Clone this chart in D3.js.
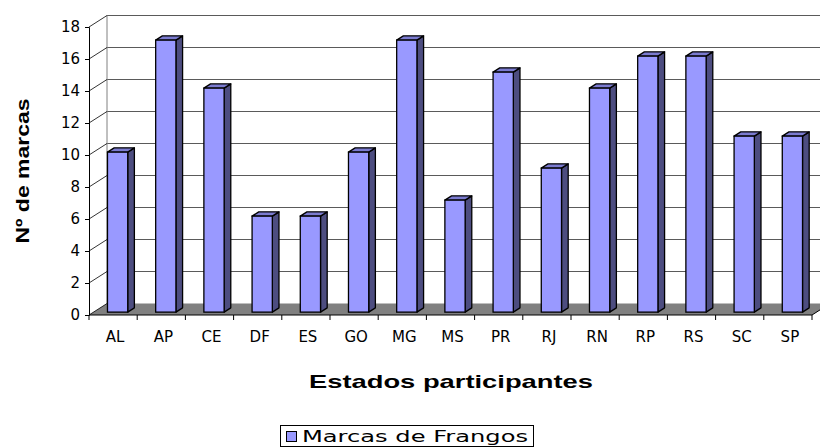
<!DOCTYPE html>
<html>
<head>
<meta charset="utf-8">
<script src="https://cdn.jsdelivr.net/npm/d3@7"></script>
<style>
  body { margin: 0; background: #fff; }
  svg { display: block; font-family: "DejaVu Sans", Verdana, sans-serif; }
</style>
</head>
<body>
<div id="chart"></div>
<script>
// data
const estados = ["AL", "AP", "CE", "DF", "ES", "GO", "MG", "MS", "PR", "RJ", "RN", "RP", "RS", "SC", "SP"];
const marcas = [10, 17, 14, 6, 6, 10, 17, 7, 15, 9, 14, 16, 16, 11, 11];
const yTicks = [0, 2, 4, 6, 8, 10, 12, 14, 16, 18];
const seriesName = "Marcas de Frangos";

const width = 820, height = 448;
const plotLeft = 89, plotRight = 812, plotBottom = 315, plotTop = 27;
// depth of the 3d box
const depthX = 18, depthY = -11.5;
// bar front/back inside the depth
const barFront = 0.25, barBack = 0.62;

const svg = d3.select("#chart").append("svg")
  .attr("width", width)
  .attr("height", height);

const x = d3.scaleBand()
  .domain(estados)
  .range([plotLeft, plotRight])
  .paddingInner(0.58)
  .paddingOuter(0.29);

const y = d3.scaleLinear()
  .domain([0, 18])
  .range([plotBottom, plotTop]);

// floor
svg.append("polygon")
  .attr("points", [[plotLeft, y(0)], [plotRight, y(0)], [plotRight + depthX, y(0) + depthY], [plotLeft + depthX, y(0) + depthY]].join(" "))
  .attr("fill", "#808080");

// back wall gridlines
svg.append("g").selectAll("line")
  .data(yTicks.filter(d => d > 0))
  .enter().append("line")
  .attr("x1", plotLeft + depthX)
  .attr("x2", plotRight + depthX)
  .attr("y1", d => y(d) + depthY)
  .attr("y2", d => y(d) + depthY)
  .attr("stroke", "#5a5a5a")
  .attr("stroke-width", 1);

// left wall
svg.append("line")
  .attr("x1", plotLeft + depthX).attr("x2", plotLeft + depthX)
  .attr("y1", y(18) + depthY).attr("y2", y(0) + depthY)
  .attr("stroke", "#808080");

svg.append("g").selectAll("line")
  .data(yTicks)
  .enter().append("line")
  .attr("x1", plotLeft)
  .attr("x2", plotLeft + depthX)
  .attr("y1", d => y(d))
  .attr("y2", d => y(d) + depthY)
  .attr("stroke", "#000")
  .attr("stroke-width", 0.8);

// bars
const bw = x.bandwidth();
const fdx = depthX * barFront, fdy = depthY * barFront;
const bdx = depthX * (barBack - barFront), bdy = depthY * (barBack - barFront);

const bars = svg.append("g").selectAll("g")
  .data(estados.map((e, i) => ({ e: e, v: marcas[i] })))
  .enter().append("g");

// side face
bars.append("polygon")
  .attr("points", d => {
    const x1 = x(d.e) + fdx + bw, yt = y(d.v) + fdy, yb = y(0) + fdy;
    return [[x1, yt], [x1 + bdx, yt + bdy], [x1 + bdx, yb + bdy], [x1, yb]].join(" ");
  })
  .attr("fill", "#4d4d80")
  .attr("stroke", "#000")
  .attr("stroke-width", 1.3)
  .attr("stroke-linejoin", "round");

// top face
bars.append("polygon")
  .attr("points", d => {
    const x0 = x(d.e) + fdx, yt = y(d.v) + fdy;
    return [[x0, yt], [x0 + bw, yt], [x0 + bw + bdx, yt + bdy], [x0 + bdx, yt + bdy]].join(" ");
  })
  .attr("fill", "#7b7bd0")
  .attr("stroke", "#000")
  .attr("stroke-width", 1.3)
  .attr("stroke-linejoin", "round");

// front face
bars.append("rect")
  .attr("x", d => x(d.e) + fdx)
  .attr("y", d => y(d.v) + fdy)
  .attr("width", bw)
  .attr("height", d => y(0) - y(d.v))
  .attr("fill", "#9999ff")
  .attr("stroke", "#000")
  .attr("stroke-width", 1.3);

// y axis
const yAxis = svg.append("g")
  .attr("transform", `translate(${plotLeft},0)`)
  .call(d3.axisLeft(y).tickValues(yTicks).tickSize(4).tickPadding(5));
yAxis.attr("font-family", null).attr("font-size", null);
yAxis.select(".domain").attr("stroke", "#000");
yAxis.selectAll("text")
  .style("font-size", "15px")
  .attr("fill", "#000");

// x axis: front edge of floor plus ticks at band edges
svg.append("line")
  .attr("x1", plotLeft).attr("x2", plotRight)
  .attr("y1", y(0)).attr("y2", y(0))
  .attr("stroke", "#000");
svg.append("line")
  .attr("x1", plotRight).attr("x2", plotRight + depthX)
  .attr("y1", y(0)).attr("y2", y(0) + depthY)
  .attr("stroke", "#000");

const edges = estados.map(e => x(e) - x.step() * x.paddingInner() / 2).concat([plotRight]);
svg.append("g").selectAll("line")
  .data(edges)
  .enter().append("line")
  .attr("x1", d => d).attr("x2", d => d)
  .attr("y1", y(0)).attr("y2", y(0) + 5)
  .attr("stroke", "#000");

svg.append("g").selectAll("text")
  .data(estados)
  .enter().append("text")
  .attr("x", d => x(d) + bw / 2 + 2)
  .attr("y", y(0) + 27)
  .attr("text-anchor", "middle")
  .style("font-size", "15px")
  .text(d => d);

// axis titles
svg.append("text")
  .attr("x", 451)
  .attr("y", 388)
  .attr("text-anchor", "middle")
  .style("font-family", "'Liberation Sans', Arial, sans-serif")
  .style("font-weight", "bold")
  .style("font-size", "19px")
  .attr("textLength", 284)
  .attr("lengthAdjust", "spacingAndGlyphs")
  .text("Estados participantes");

svg.append("text")
  .attr("transform", "translate(29,171) rotate(-90)")
  .attr("text-anchor", "middle")
  .style("font-family", "'Liberation Sans', Arial, sans-serif")
  .style("font-weight", "bold")
  .style("font-size", "19px")
  .attr("textLength", 145)
  .attr("lengthAdjust", "spacingAndGlyphs")
  .text("Nº de marcas");

// legend
const legend = svg.append("g");
legend.append("rect")
  .attr("x", 280.5).attr("y", 425.5)
  .attr("width", 253).attr("height", 21)
  .attr("fill", "#fff")
  .attr("stroke", "#000");
legend.append("rect")
  .attr("x", 286.5).attr("y", 431.5)
  .attr("width", 10).attr("height", 10)
  .attr("fill", "#9999ff")
  .attr("stroke", "#000");
legend.append("text")
  .attr("x", 302)
  .attr("y", 442)
  .style("font-size", "15px")
  .attr("textLength", 226)
  .attr("lengthAdjust", "spacingAndGlyphs")
  .text(seriesName);
</script>
</body>
</html>
